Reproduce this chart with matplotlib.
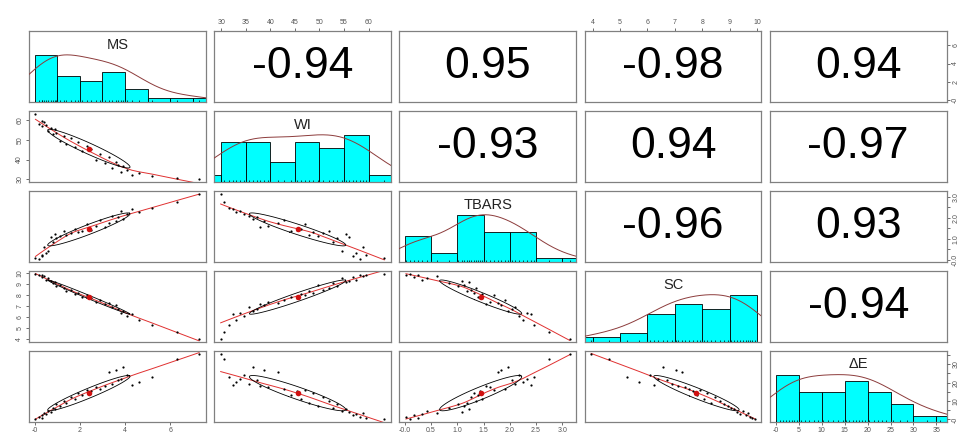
import numpy as np
import matplotlib
matplotlib.use("Agg")
import matplotlib.pyplot as plt

plt.rcParams["font.family"] = ["Liberation Sans", "DejaVu Sans"]

# Measurements per sample (35 samples)
MS = [0.03, 0.20, 0.30, 0.30, 0.40, 0.50, 0.60, 0.70, 0.80, 0.90, 0.95,
      1.10, 1.30, 1.40, 1.60, 1.80, 1.90, 2.10, 2.30, 2.50, 2.70, 2.90,
      3.10, 3.30, 3.40, 3.60, 3.70, 3.80, 3.90, 4.10, 4.30, 4.60, 5.20,
      6.30, 7.28]
WI = [63.2, 58.2, 59.5, 56.8, 58.8, 57.5, 54.5, 56.0, 52.8, 55.3, 53.6,
      49.6, 51.9, 47.9, 50.8, 46.2, 48.7, 44.2, 47.0, 45.4, 39.6, 42.8,
      38.0, 41.5, 35.6, 38.8, 37.3, 33.9, 36.5, 34.6, 32.4, 33.1, 31.6,
      30.5, 29.9]
TBARS = [0.10, 0.02, 0.25, 0.18, 0.62, 0.33, 0.42, 1.08, 0.85, 1.22, 1.02,
         1.13, 1.35, 1.18, 1.27, 1.47, 1.31, 1.39, 1.70, 1.43, 1.62, 1.90,
         1.55, 1.77, 2.10, 1.83, 2.04, 2.32, 1.96, 2.17, 2.40, 2.25, 2.46,
         2.75, 3.14]
SC = [9.91, 9.75, 9.82, 9.57, 9.66, 9.38, 9.48, 9.27, 9.05, 9.16, 8.78,
      8.92, 8.63, 8.31, 8.47, 8.06, 8.18, 7.80, 7.93, 7.66, 7.38, 7.52,
      7.13, 7.25, 6.90, 7.04, 6.72, 6.38, 6.55, 6.08, 6.22, 5.70, 5.25,
      4.60, 3.95]
dE = [0.1, 1.5, 0.9, 2.2, 3.4, 2.8, 4.6, 4.0, 6.4, 5.5, 8.2,
      7.3, 10.2, 9.1, 12.4, 11.3, 14.6, 13.5, 16.0, 15.3, 17.4, 16.7,
      18.1, 25.6, 19.5, 27.0, 21.3, 22.2, 28.6, 24.0, 18.8, 20.4, 23.1,
      33.0, 35.8]

var_names = ["MS", "WI", "TBARS", "SC", "ΔE"]
bin_widths = [1, 5, 0.5, 1, 5]
x_tick_steps = [2, 5, 0.5, 1, 5]
y_tick_steps = [2, 10, 0.5, 1, 5]
y_label_every = [1, 1, 2, 1, 2]
tick_formats = ["{:.0f}", "{:.0f}", "{:.1f}", "{:.0f}", "{:.0f}"]

# Pearson r for the upper panels, row by row
r_values = [-0.94, 0.95, -0.98, 0.94,
            -0.93, 0.94, -0.97,
            -0.96, 0.93,
            -0.94]

HIST_COL = "#00FFFF"
AXIS_COL = "#555555"
FRAME_COL = "#808080"


def lowess(x, y, f=2 / 3, iters=3):
    order = np.argsort(x, kind="stable")
    x = np.asarray(x, float)[order]
    y = np.asarray(y, float)[order]
    n = len(x)
    ns = max(min(int(round(f * n)), n), 2)
    dist = np.abs(x[:, None] - x[None, :])
    h = np.maximum(np.sort(dist, axis=1)[:, ns - 1], 1e-12)
    w = (1 - np.clip(dist / h[:, None], 0, 1) ** 3) ** 3
    robust = np.ones(n)
    fit = np.zeros(n)
    for _ in range(iters + 1):
        for i in range(n):
            wi = w[i] * robust
            sw = wi.sum()
            xm = (wi * x).sum() / sw
            ym = (wi * y).sum() / sw
            sxx = (wi * (x - xm) ** 2).sum()
            b = (wi * (x - xm) * (y - ym)).sum() / sxx if sxx > 1e-12 else 0.0
            fit[i] = ym + b * (x[i] - xm)
        res = y - fit
        s = np.median(np.abs(res))
        u = np.clip(res / (6 * s), -1, 1) if s > 0 else np.zeros(n)
        robust = (1 - u ** 2) ** 2
    return x, fit


def density_curve(x, adjust=1.2):
    x = np.asarray(x, float)
    q75, q25 = np.percentile(x, [75, 25])
    bw = 1.06 * min(np.std(x, ddof=1), (q75 - q25) / 1.34) * len(x) ** -0.2 * adjust
    grid = np.linspace(x.min() - 3 * bw, x.max() + 3 * bw, 512)
    d = np.exp(-0.5 * ((grid[:, None] - x[None, :]) / bw) ** 2).sum(axis=1)
    return grid, d / d.max()


def tick_values(lo, hi, step):
    start = np.ceil(lo / step - 1e-9) * step
    return np.arange(start, hi + 1e-9, step)


def style_ticks(ax, axis, k, side, lims):
    if axis == "x":
        ticks = tick_values(*lims[k], x_tick_steps[k])
        labels = [tick_formats[k].format(t) for t in ticks]
        ax.set_xticks(ticks, labels)
        top = side == "top"
        ax.tick_params(axis="x", top=top, labeltop=top, bottom=not top,
                       labelbottom=not top)
    else:
        ticks = tick_values(*lims[k], y_tick_steps[k])
        every = y_label_every[k]
        labels = [tick_formats[k].format(t) if n % every == 0 else ""
                  for n, t in enumerate(ticks)]
        ax.set_yticks(ticks, labels)
        right = side == "right"
        ax.tick_params(axis="y", right=right, labelright=right, left=not right,
                       labelleft=not right, labelrotation=90)
        for lab in ax.get_yticklabels():
            lab.set_va("center")
    ax.tick_params(axis=axis, direction="out", length=2.5, width=0.6, pad=1.5,
                   labelsize=5, colors=AXIS_COL)


data = [np.array(v, float) for v in (MS, WI, TBARS, SC, dE)]
nvar = len(data)
lims = []
for v in data:
    span = v.max() - v.min()
    lims.append((v.min() - 0.04 * span, v.max() + 0.04 * span))

fig, axes = plt.subplots(nvar, nvar, figsize=(9.63, 4.46), dpi=100)
fig.subplots_adjust(left=0.030, right=0.983, bottom=0.054, top=0.930,
                    wspace=0.048, hspace=0.127)

r_iter = iter(r_values)
upper_r = {}
for i in range(nvar):
    for j in range(i + 1, nvar):
        upper_r[(i, j)] = next(r_iter)

for i in range(nvar):
    for j in range(nvar):
        ax = axes[i, j]
        ax.set_xlim(*lims[j])
        ax.set_xticks([])
        ax.set_yticks([])
        for sp in ax.spines.values():
            sp.set_color(FRAME_COL)
            sp.set_linewidth(0.9)

        if i == j:
            # histogram + density + rug
            x = data[j]
            w = bin_widths[j]
            edges = np.arange(np.floor(x.min() / w) * w,
                              np.ceil(x.max() / w) * w + w / 2, w)
            counts, _ = np.histogram(x, bins=edges)
            ax.set_ylim(0, 1.5)
            ax.bar(edges[:-1], counts / counts.max(), width=np.diff(edges),
                   align="edge", color=HIST_COL, edgecolor="black",
                   linewidth=0.6, zorder=2)
            gx, gy = density_curve(x)
            ax.plot(gx, gy, color="#8c3b3b", linewidth=0.7, zorder=3)
            ax.vlines(x, 0, 0.045, color="black", linewidth=0.5, zorder=4)
            ax.text(0.5, 0.81, var_names[j], transform=ax.transAxes,
                    ha="center", va="center", fontsize=10.5, color="#222222")
        elif i > j:
            # scatter with lowess smoother and correlation ellipse
            x, y = data[j], data[i]
            ax.set_ylim(*lims[i])
            ax.plot(x, y, "o", color="black", markersize=1.6,
                    markeredgewidth=0, zorder=3)
            sx, sy = lowess(x, y)
            ax.plot(sx, sy, color="#e03030", linewidth=0.7, zorder=2)
            r = np.corrcoef(x, y)[0, 1]
            theta = np.sign(r) / np.sqrt(2)
            shape = np.diag([np.sqrt(1 + r), np.sqrt(1 - r)]) @ np.array(
                [[theta, theta], [-theta, theta]])
            ang = np.linspace(0, 2 * np.pi, 52)
            ell = np.column_stack([np.cos(ang), np.sin(ang)]) @ shape
            ax.plot(ell[:, 0] * x.std(ddof=1) + x.mean(),
                    ell[:, 1] * y.std(ddof=1) + y.mean(),
                    color="black", linewidth=0.6, zorder=3)
            ax.plot(x.mean(), y.mean(), "o", color="#d01010", markersize=4,
                    markeredgewidth=0, zorder=4)
        else:
            ax.set_ylim(*lims[i])
            ax.text(0.5, 0.5, "{:.2f}".format(upper_r[(i, j)]),
                    transform=ax.transAxes, ha="center", va="center",
                    fontsize=32, color="black")

        # outer axes alternate sides, as in a pairs plot
        if i == nvar - 1 and j % 2 == 0:
            style_ticks(ax, "x", j, "bottom", lims)
        if i == 0 and j % 2 == 1:
            style_ticks(ax, "x", j, "top", lims)
        if j == 0 and i % 2 == 1:
            style_ticks(ax, "y", i, "left", lims)
        if j == nvar - 1 and i % 2 == 0:
            if i == j:
                tw = ax.twinx()
                tw.set_ylim(*lims[i])
                for sp in tw.spines.values():
                    sp.set_visible(False)
                style_ticks(tw, "y", i, "right", lims)
            else:
                style_ticks(ax, "y", i, "right", lims)

fig.savefig("out.png", dpi=100)
